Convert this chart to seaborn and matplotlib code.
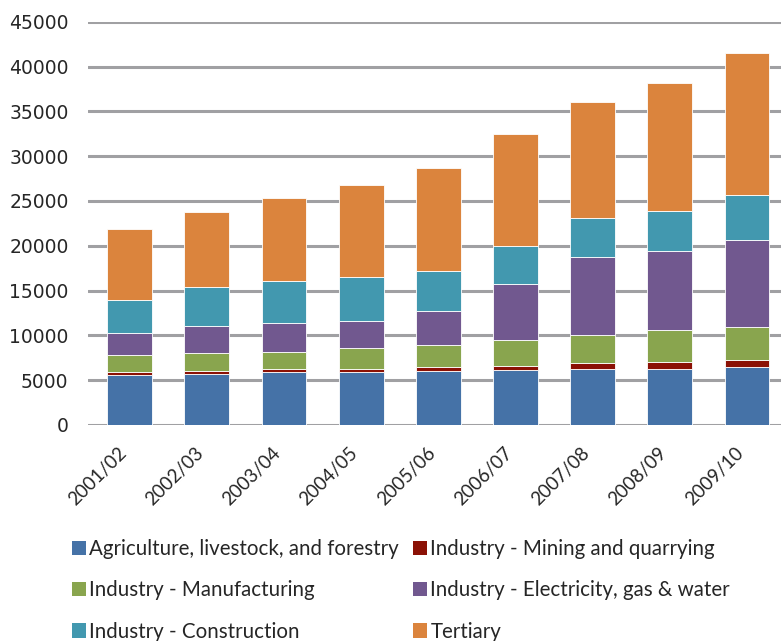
import matplotlib
matplotlib.use("Agg")
import matplotlib.pyplot as plt
import matplotlib.transforms as mtransforms
import seaborn as sns
import pandas as pd
from matplotlib.patches import Patch

years = ["2001/02", "2002/03", "2003/04", "2004/05", "2005/06",
         "2006/07", "2007/08", "2008/09", "2009/10"]
agriculture = [5580, 5730, 5915, 5915, 6065, 6100, 6285, 6285, 6475]
mining = [335, 335, 370, 370, 410, 520, 595, 745, 745]
manufacturing = [1860, 1970, 1900, 2270, 2455, 2865, 3160, 3570, 3755]
electricity = [2455, 2975, 3160, 3015, 3755, 6210, 8670, 8855, 9670]
construction = [3755, 4355, 4725, 4910, 4500, 4315, 4350, 4390, 5020]
tertiary = [7925, 8445, 9265, 10340, 11495, 12460, 12985, 14285, 15845]

series_names = ["Agriculture, livestock, and forestry",
                "Industry - Mining and quarrying",
                "Industry - Manufacturing",
                "Industry - Electricity, gas & water",
                "Industry - Construction",
                "Tertiary"]
series_values = [agriculture, mining, manufacturing, electricity, construction, tertiary]
colors = ["#4572A7", "#8B1105", "#89A54E", "#71588F", "#4298AF", "#DB843D"]

sns.set_style("white")
plt.rcParams['font.family'] = ['DejaVu Sans']

fig = plt.figure(figsize=(7.81, 6.41), dpi=100)
ax = fig.add_axes([88/781, 1 - 425/641, 1 - 88/781, (425 - 21.7)/641])

bottom = [0] * len(years)
for name, vals, col in zip(series_names, series_values, colors):
    df = pd.DataFrame({"year": years, "value": vals})
    sns.barplot(data=df, x="year", y="value", color=col, ax=ax, width=0.58,
                bottom=bottom, edgecolor="white", linewidth=0.6, saturation=1,
                errorbar=None, zorder=3)
    bottom = [b + v for b, v in zip(bottom, vals)]

ax.set_ylim(0, 45000)
ax.set_xlim(-0.54, 8.44)
ax.set_yticks(range(0, 45001, 5000))
ax.yaxis.grid(True, color="#A0A0A3", linewidth=2.2, zorder=0)
ax.xaxis.grid(False)
ax.set_axisbelow(True)
for s in ax.spines.values():
    s.set_visible(False)
ax.set_xlabel("")
ax.set_ylabel("")
ax.tick_params(axis="y", length=0, pad=14, labelsize=13.5, labelcolor="#262626")
ax.tick_params(axis="x", length=0, pad=18, labelsize=13.5, labelcolor="#262626")
offset = mtransforms.ScaledTranslation(-6/100, 0, fig.dpi_scale_trans)
for lab in ax.get_xticklabels():
    lab.set_rotation(45)
    lab.set_ha("right")
    lab.set_va("center")
    lab.set_rotation_mode("anchor")
    lab.set_fontfamily("Lato")
    lab.set_transform(lab.get_transform() + offset)

handles = [Patch(facecolor=c, edgecolor="none") for c in colors]
order = [0, 2, 4, 1, 3, 5]
leg = fig.legend([handles[i] for i in order], [series_names[i] for i in order],
                 ncol=2, loc="upper left", bbox_to_anchor=(72/781, 1 - 539/641),
                 frameon=False, borderpad=0, borderaxespad=0,
                 handlelength=0.68, handleheight=0.68,
                 handletextpad=0.15, columnspacing=0.7, labelspacing=1.04,
                 prop={"family": "Lato", "size": 14.8})
for t in leg.get_texts():
    t.set_color("#262626")

fig.savefig("out.png", dpi=100)
